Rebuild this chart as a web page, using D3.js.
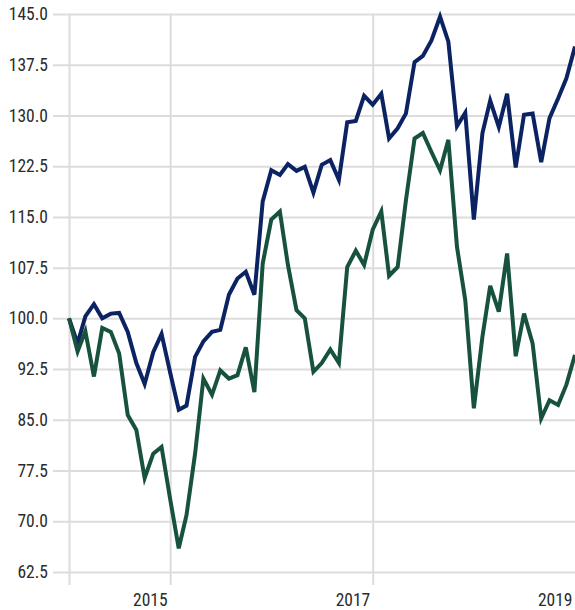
<!DOCTYPE html>
<html>
<head>
<meta charset="utf-8">
<script src="https://d3js.org/d3.v7.min.js"></script>
<style>
    body { margin: 0; background: #fff; }
    .chart text { font-family: "Roboto Condensed", "Liberation Sans Narrow", "DejaVu Sans Condensed", sans-serif; fill: #2b2b2b; }
    .grid line { stroke: #dcdcdc; stroke-width: 2; }
    .grid .domain { display: none; }
</style>
</head>
<body>
<div id="chart"></div>
<script>
// monthly index values, Jan 2014 .. Jan 2019 (both start at 100)
var startMonth = new Date(2014, 0, 1);

var blueValues = [100, 96.3, 100.3, 102.1, 100.0, 100.7, 100.8, 98.0, 93.4, 90.3,
                  95.0, 97.7, 92.0, 86.5, 87.1, 94.3, 96.6, 98.0, 98.3, 103.5,
                  105.9, 106.9, 103.5, 117.3, 121.9, 121.2, 122.8, 121.8, 122.4, 118.6,
                  122.7, 123.4, 120.5, 129.0, 129.2, 132.9, 131.6, 133.2, 126.6, 128.1,
                  130.3, 137.9, 138.8, 141.1, 144.6, 140.9, 128.4, 130.4, 114.6, 127.4,
                  132.2, 128.3, 133.2, 122.3, 130.1, 130.3, 123.1, 129.6, 132.5, 135.5,
                  140.2];

var greenValues = [100, 95.1, 98.1, 91.4, 98.6, 98.0, 94.8, 85.7, 83.5, 76.4,
                   80.0, 81.0, 73.3, 66.0, 70.9, 80.0, 91.1, 88.7, 92.3, 91.1,
                   91.6, 95.7, 89.1, 108.1, 114.6, 115.8, 107.9, 101.2, 100.0, 92.1,
                   93.4, 95.4, 93.4, 107.6, 110.0, 107.9, 113.1, 115.8, 106.3, 107.6,
                   117.5, 126.6, 127.4, 124.6, 121.9, 126.4, 110.6, 102.7, 86.7, 97.3,
                   104.8, 101.0, 109.6, 94.4, 100.7, 96.3, 85.2, 87.9, 87.2, 90.2,
                   94.6];

var yTicks = [62.5, 70, 77.5, 85, 92.5, 100, 107.5, 115, 122.5, 130, 137.5, 145];
var gridYears = [2014, 2015, 2017];
var labelYears = [2015, 2017, 2019];

var seriesList = [
    {name: "blue", values: blueValues, color: "#0c2363"},
    {name: "green", values: greenValues, color: "#17523d"}
];

var width = 575,
    height = 610,
    gridLeft = 53,
    plotLeft = 69,
    plotRight = 575,
    plotTop = 14,
    plotBottom = 572,
    tickBottom = 585;

function monthDate(i) {
    return d3.timeMonth.offset(startMonth, i);
}

var x = d3.scaleTime()
          .domain([startMonth, monthDate(blueValues.length - 1)])
          .range([plotLeft, plotRight]);

var y = d3.scaleLinear()
          .domain([62.5, 145])
          .range([plotBottom, plotTop]);

var svg = d3.select("#chart")
            .append("svg")
            .attr("class", "chart")
            .attr("width", width)
            .attr("height", height);

// horizontal grid + y labels
svg.append("g")
   .attr("class", "grid")
   .attr("transform", "translate(" + gridLeft + ",0)")
   .call(d3.axisLeft(y)
           .tickValues(yTicks)
           .tickFormat(d3.format(".1f"))
           .tickSizeInner(-(plotRight - gridLeft))
           .tickSizeOuter(0)
           .tickPadding(5))
   .selectAll("text")
   .style("font-size", "17.5px");

// vertical grid lines (they run a bit below the plot)
svg.append("g")
   .attr("class", "grid")
   .attr("transform", "translate(0," + tickBottom + ")")
   .call(d3.axisBottom(x)
           .tickValues(gridYears.map(function(d) { return new Date(d, 0, 1); }))
           .tickFormat("")
           .tickSizeInner(-(tickBottom - plotTop))
           .tickSizeOuter(0));

// year labels, right aligned on their tick
svg.append("g")
   .attr("class", "grid")
   .attr("transform", "translate(0," + tickBottom + ")")
   .call(d3.axisBottom(x)
           .tickValues(labelYears.map(function(d) { return new Date(d, 0, 1); }))
           .tickFormat(d3.timeFormat("%Y"))
           .tickSize(0)
           .tickPadding(9))
   .call(function(g) { g.selectAll("line").remove(); })
   .selectAll("text")
   .attr("text-anchor", "end")
   .attr("dx", -3)
   .style("font-size", "17.5px");

var line = d3.line()
             .x(function(d, i) { return x(monthDate(i)); })
             .y(function(d) { return y(d); });

svg.selectAll(".series")
   .data(seriesList)
   .enter()
   .append("path")
   .attr("class", "series")
   .attr("d", function(d) { return line(d.values); })
   .style("fill", "none")
   .style("stroke", function(d) { return d.color; })
   .style("stroke-width", 4)
   .style("stroke-linejoin", "miter");
</script>
</body>
</html>
